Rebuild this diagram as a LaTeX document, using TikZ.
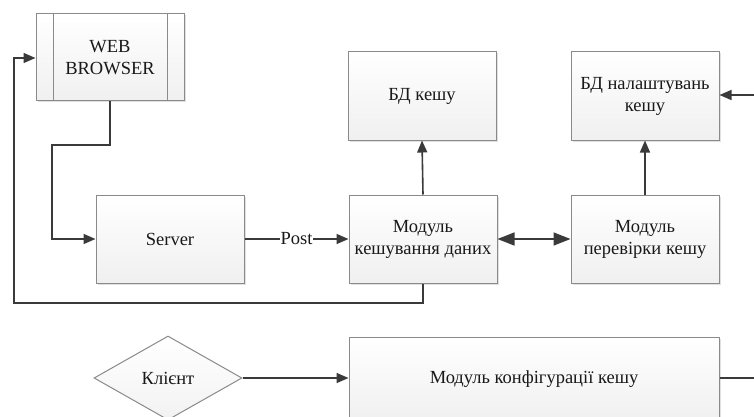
\documentclass[tikz,border=0pt]{standalone}
\usepackage{fontspec}
\setmainfont{Liberation Serif}
\usetikzlibrary{arrows.meta,shapes.geometric,shadows}
\definecolor{linec}{HTML}{3A3A3A}
\definecolor{boxline}{HTML}{8A8A8A}
\tikzset{
  lbl/.style={font=\fontsize{18.5}{22}\selectfont, text=black!90},
  box/.style={draw=boxline, line width=1pt, top color=white, bottom color=gray!12,
    minimum width=148pt, minimum height=88pt, align=center, inner sep=2pt, lbl,
    drop shadow={shadow xshift=1.5pt, shadow yshift=-1.5pt, fill=gray!40, opacity=0.6}},
  dia/.style={draw=boxline, line width=1pt, diamond, aspect=1.8, top color=white, bottom color=gray!10,
    minimum width=148pt, minimum height=84pt, inner sep=0pt, lbl},
  conn/.style={draw=linec, line width=1.6pt},
  arr/.style={conn, -{Triangle[length=12pt,width=10pt]}},
  darr/.style={conn, {Triangle[length=17pt,width=13pt]}-{Triangle[length=17pt,width=13pt]}},
}
\begin{document}
\begin{tikzpicture}[x=1pt,y=-1pt]
\clip (0,0) rectangle (754,417);
\fill[white] (0,0) rectangle (754,417);

\node[box] (web) at (110,57.5) [minimum height=87pt] {WEB\\BROWSER};
\draw[boxline, line width=1pt] ([xshift=18pt]web.north west) -- ([xshift=18pt]web.south west);
\draw[boxline, line width=1pt] ([xshift=-17pt]web.north east) -- ([xshift=-17pt]web.south east);

\node[box] (bdk) at (422,96) {БД кешу};
\node[box] (bdn) at (645,96) {БД налаштувань\\кешу};
\node[box] (server) at (170,239) {Server};
\node[box] (mkd) at (423,239) {Модуль\\кешування даних};
\node[box] (mpk) at (645,239) {Модуль\\перевірки кешу};
\node[dia] (klient) at (168,378) {Клієнт};
\node[box, minimum width=370pt, minimum height=84pt] (mkonf) at (534,379) {Модуль конфігурації кешу};

\coordinate (r1) at (760,378);
\coordinate (r2) at (760,95);

% web -> server
\draw[arr] (web.south) |- (52,145) -- (52,239) -- (server.west);
% server -> mkd with Post
\draw[arr] (server.east) -- node[fill=white, inner sep=1pt, lbl] {Post} (mkd.west);
% mkd -> bdk
\draw[arr] (mkd.north) -- (bdk.south);
% mkd <-> mpk
\draw[darr] (mkd.east) -- (mpk.west);
% mpk -> bdn
\draw[arr] (mpk.north) -- (bdn.south);
% mkd -> web (loop)
\draw[arr] (mkd.south) -- (423,303) -- (14,303) -- (14,58) -- (web.west |- 0,58);
% klient -> mkonf
\draw[arr] (klient.east) -- (mkonf.west |- klient.east);
% mkonf -> right edge
\draw[conn] (mkonf.east |- 0,378) -- (r1);
% right edge -> bdn
\draw[arr] (r2) -- (bdn.east |- r2);
\end{tikzpicture}
\end{document}
